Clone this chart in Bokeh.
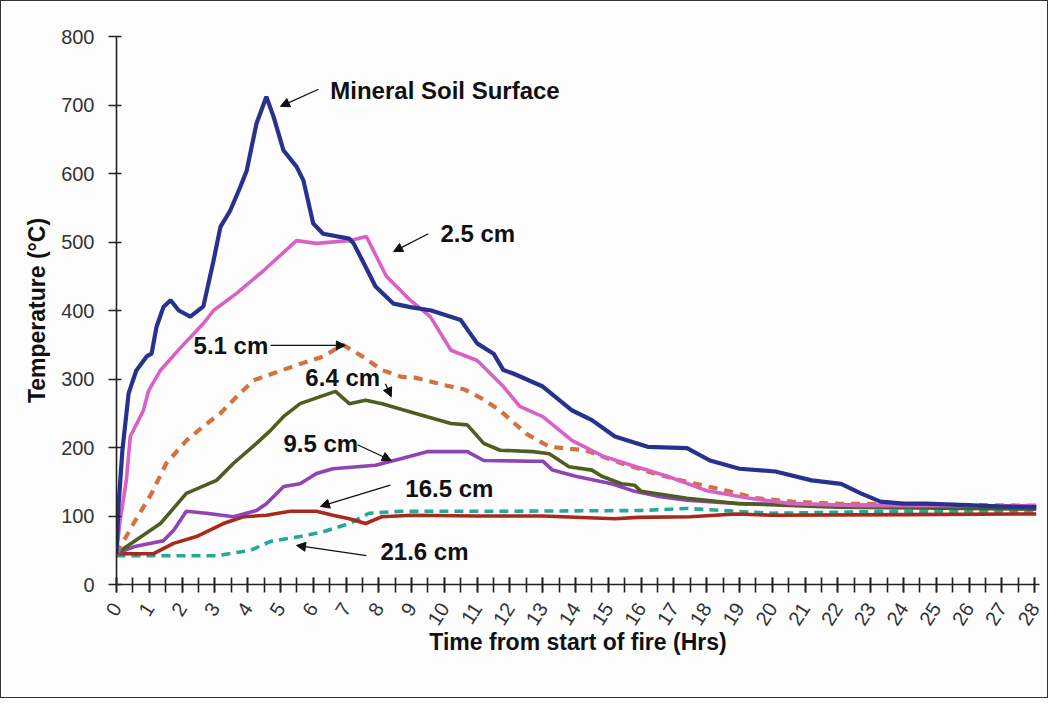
import math
from bokeh.plotting import figure
from bokeh.models import Label, Arrow, NormalHead, FixedTicker
from bokeh.embed import file_html
from bokeh.resources import INLINE

# ---- data (hours, deg C) ----
surf_x = [0, 0.06, 0.18, 0.37, 0.6, 0.92, 1.07, 1.22, 1.43, 1.65, 1.9, 2.25, 2.65, 2.96, 3.17, 3.47, 3.78, 3.97,
          4.27, 4.57, 4.79, 5.09, 5.49, 5.7, 6.0, 6.3, 7.1, 7.23, 7.5, 7.9, 8.45, 8.96, 9.6, 10.5, 11.0, 11.5,
          11.8, 12.1, 13.0, 13.9, 14.5, 15.2, 16.2, 17.4, 18.1, 19.0, 20.1, 21.2, 22.1, 22.7, 23.3, 24.0, 24.7,
          26.9, 28.05]
surf_y = [45, 114, 196, 279, 312, 333, 337, 376, 405, 415, 400, 391, 406, 473, 522, 546, 581, 604,
          673, 712, 683, 634, 610, 590, 527, 512, 505, 498, 473, 435, 410, 405, 400, 386, 352, 337,
          313, 308, 289, 254, 240, 216, 201, 199, 181, 169, 165, 152, 147, 133, 121, 118, 118,
          114, 113]

cm25_x = [0, 0.1, 0.3, 0.42, 0.82, 0.98, 1.33, 1.94, 2.14, 2.65, 2.96, 3.66, 4.48, 5.49, 6.1, 7.1, 7.62, 8.23,
          8.96, 9.57, 10.2, 11.0, 11.8, 12.3, 13.0, 13.9, 14.85, 15.85, 16.8, 18.0, 19.3, 20.6, 22.7, 28.05]
cm25_y = [45, 90, 152, 216, 254, 283, 312, 345, 355, 381, 400, 425, 458, 502, 498, 502, 508, 450,
          415, 391, 342, 327, 289, 260, 245, 210, 187, 172, 158, 137, 126, 118, 115, 115]

cm51_x = [0, 0.52, 1.07, 1.52, 2.13, 2.65, 3.17, 3.66, 4.18, 5.0, 5.6, 6.31, 6.9, 7.5, 8.1, 8.7, 9.1, 10.0,
          10.6, 11.2, 11.7, 12.5, 13.2, 14.3, 15.4, 16.4, 17.2, 18.6, 19.5, 20.6, 22.0, 28.05]
cm51_y = [45, 89, 133, 177, 210, 231, 250, 274, 298, 312, 322, 333, 350, 333, 313, 303, 302, 291,
          285, 270, 254, 220, 201, 196, 177, 162, 152, 137, 126, 121, 118, 115]

cm64_x = [0, 0.3, 1.34, 2.13, 3.05, 3.57, 4.27, 4.7, 5.09, 5.6, 6.5, 6.68, 7.1, 7.6, 8.1, 9.1, 10.2, 10.7,
          11.2, 11.7, 12.7, 13.2, 13.8, 14.5, 14.8, 15.4, 15.8, 16.0, 17.4, 19.0, 22.0, 28.05]
cm64_y = [45, 55, 89, 133, 152, 177, 206, 225, 245, 264, 279, 282, 264, 269, 264, 250, 235, 233,
          206, 196, 194, 191, 172, 167, 158, 147, 145, 136, 126, 118, 113, 110]

cm95_x = [0, 0.52, 1.43, 1.74, 2.13, 2.74, 3.57, 4.27, 4.57, 5.1, 5.6, 6.1, 6.6, 7.9, 8.7, 9.5, 10.7, 11.2,
          12.7, 13.0, 13.3, 14.0, 15.1, 15.8, 16.6, 17.4, 19.0, 28.05]
cm95_y = [45, 55, 64, 79, 107, 104, 99, 108, 118, 143, 147, 162, 169, 174, 184, 194, 194, 181,
          180, 180, 167, 158, 147, 136, 128, 123, 118, 113]

cm165_x = [0, 1.13, 1.74, 2.44, 3.26, 3.87, 4.57, 5.3, 6.1, 6.6, 7.1, 7.6, 8.1, 9.0, 11.0, 13.0, 15.2, 15.9,
           17.5, 18.9, 20.0, 24.0, 28.05]
cm165_y = [45, 45, 60, 70, 89, 99, 101, 107, 107, 101, 96, 89, 99, 101, 100, 100, 96, 98,
           99, 103, 101, 102, 103]

cm216_x = [0, 3.05, 4.1, 4.7, 5.6, 6.3, 7.1, 7.7, 8.7, 12.0, 16.0, 17.4, 18.5, 20.0, 24.0, 28.05]
cm216_y = [42, 42, 50, 63, 70, 77, 89, 104, 107, 107, 108, 111, 108, 104, 107, 107]

x_ticks = list(range(0, 29))
y_ticks = [0, 100, 200, 300, 400, 500, 600, 700, 800]

FONT = "Liberation Sans"

p = figure(width=1048, height=698, output_backend="svg", toolbar_location=None,
           x_range=(0, 28.15), y_range=(0, 800),
           min_border_left=115, min_border_top=35, min_border_bottom=115, min_border_right=10)
p.styles = {"border": "1.5px solid #333333"}
p.background_fill_color = "#FDFDFE"
p.border_fill_color = "#FDFDFE"
p.outline_line_color = None
p.grid.visible = False

# axes
p.xaxis.ticker = FixedTicker(ticks=x_ticks, minor_ticks=[i * 0.5 for i in range(0, 57)])
p.yaxis.ticker = FixedTicker(ticks=y_ticks)
for ax in (p.xaxis[0], p.yaxis[0]):
    ax.axis_line_color = "#222222"
    ax.axis_line_width = 1.6
    ax.major_tick_line_color = "#222222"
    ax.major_tick_line_width = 1.6
    ax.major_label_text_font = FONT
    ax.major_label_text_color = "#333333"
    ax.major_label_text_font_size = "20px"
    ax.axis_label_text_font = FONT
    ax.axis_label_text_font_style = "bold"
    ax.axis_label_text_color = "#111111"
p.xaxis.major_tick_in = 7
p.xaxis.major_tick_out = 8
p.xaxis.minor_tick_in = 7
p.xaxis.minor_tick_out = 8
p.xaxis.minor_tick_line_color = "#222222"
p.xaxis.minor_tick_line_width = 1.6
p.yaxis.major_tick_in = 5
p.yaxis.major_tick_out = 8
p.yaxis.minor_tick_line_color = None
p.xaxis.major_label_orientation = 1.0
p.xaxis.major_label_standoff = 12
p.yaxis.major_label_standoff = 14

p.xaxis.axis_label = "Time from start of fire (Hrs)"
p.xaxis.axis_label_text_font_size = "23px"
p.xaxis.axis_label_standoff = -5
p.yaxis.axis_label = "Temperature (°C)"
p.yaxis.axis_label_text_font_size = "23px"
p.yaxis.axis_label_standoff = 8

# series
p.line(cm216_x, cm216_y, line_color="#26A79A", line_width=3.6, line_dash="9 6")
p.line(cm165_x, cm165_y, line_color="#A82A1C", line_width=3.6)
p.line(cm95_x, cm95_y, line_color="#8E44B2", line_width=3.6)
p.line(cm64_x, cm64_y, line_color="#4D5E20", line_width=3.6)
p.line(cm51_x, cm51_y, line_color="#D2733F", line_width=4.2, line_dash="9 7")
p.line(cm25_x, cm25_y, line_color="#D960C5", line_width=3.6)
p.line(surf_x, surf_y, line_color="#27318E", line_width=4.2)

# annotations
labels = [
    ("Mineral Soil Surface", 6.52, 721, 6.16, 723, 5.0, 698),
    ("2.5 cm", 9.88, 512, 9.51, 512, 8.45, 486),
    ("5.1 cm", 2.35, 349, 4.70, 349, 6.98, 349),
    ("6.4 cm", 5.76, 302, 8.20, 293, 8.38, 274),
    ("9.5 cm", 5.09, 206, 7.35, 204, 8.38, 181),
    ("16.5 cm", 8.81, 140, 8.35, 145, 6.22, 114),
    ("21.6 cm", 8.05, 48, 7.62, 42, 5.49, 57),
]
for txt, tx, ty, ax0, ay0, ax1, ay1 in labels:
    p.add_layout(Label(x=tx, y=ty, text=txt, text_font=FONT, text_font_style="bold",
                       text_font_size="24px", text_color="#111111", text_baseline="middle",
                       text_align="left"))
    p.add_layout(Arrow(x_start=ax0, y_start=ay0, x_end=ax1, y_end=ay1,
                       line_color="#111111", line_width=1.3,
                       end=NormalHead(size=9, fill_color="#111111", line_color="#111111")))

open("out.html", "w").write(file_html(p, INLINE))
